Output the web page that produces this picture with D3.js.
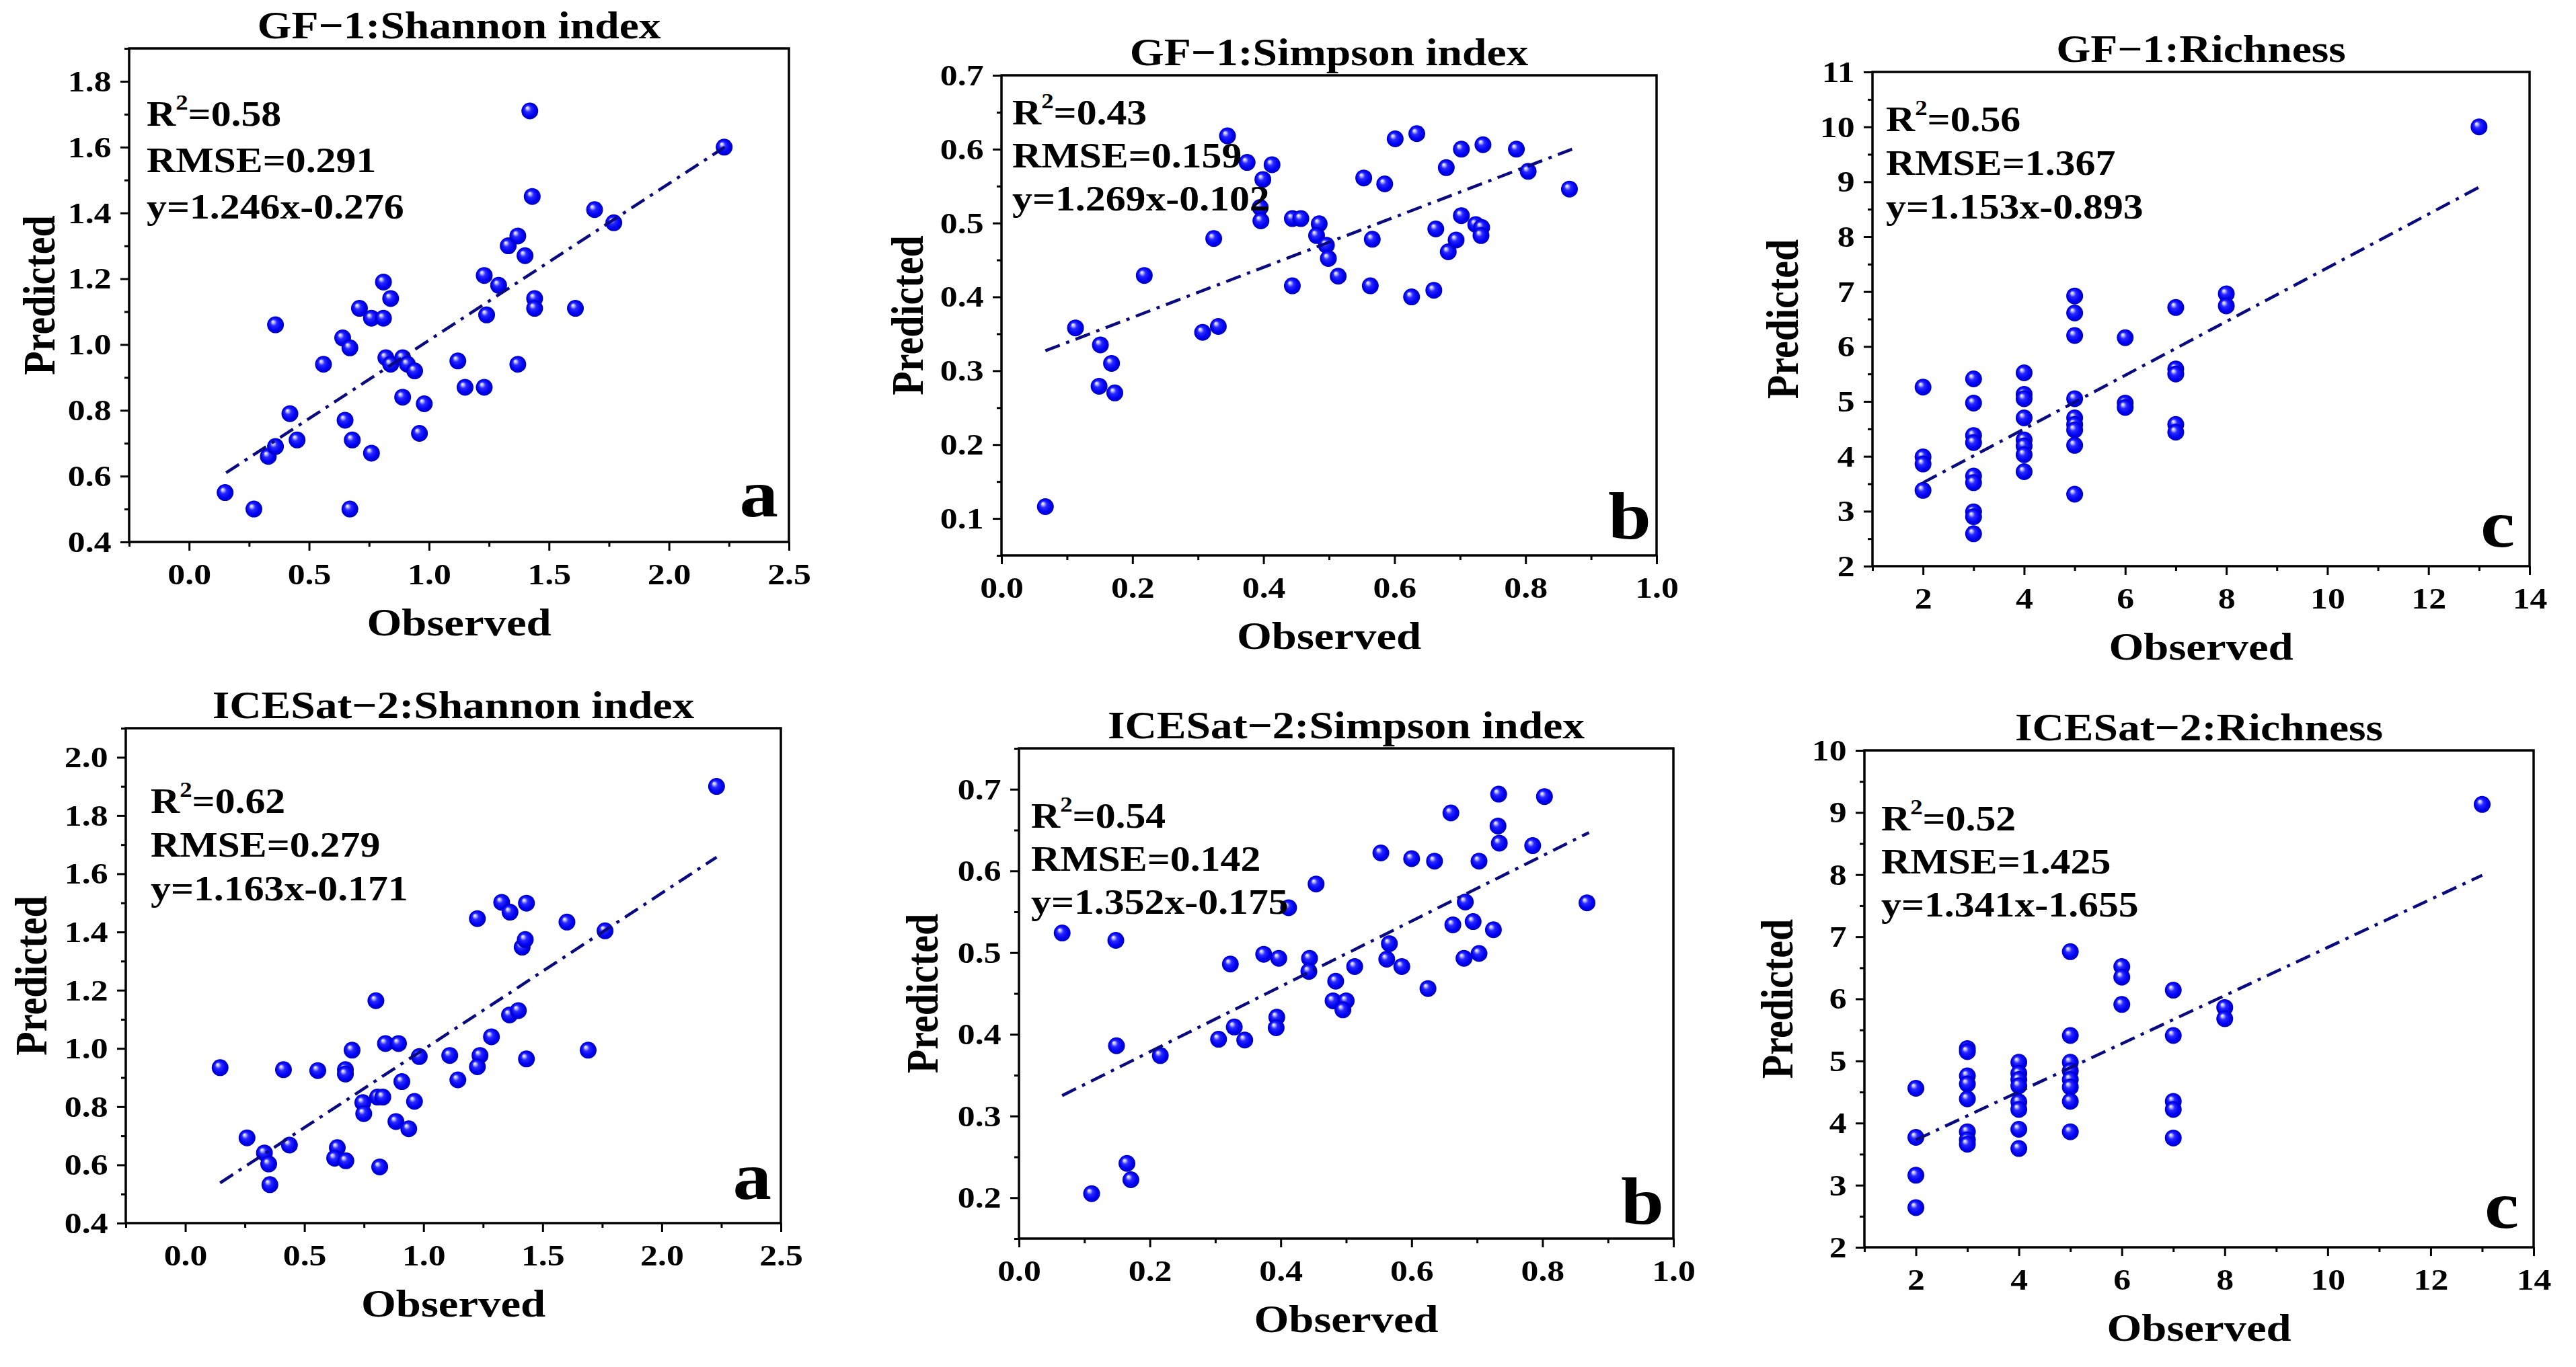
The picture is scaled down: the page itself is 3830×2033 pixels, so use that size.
<!DOCTYPE html>
<html>
<head>
<meta charset="utf-8">
<script src="https://cdn.jsdelivr.net/npm/d3@7"></script>
<style>
  body { margin: 0; background: #fff; }
  text { font-family: "Liberation Serif", "Times New Roman", serif; font-weight: bold; fill: #000; }
</style>
</head>
<body>
<div id="chart"></div>
<script>
// ---- data ----
var gfShannonObs  = [0.15,0.27,0.67,0.33,0.36,0.36,0.42,0.45,0.56,0.64,0.67,0.65,0.68,0.76,0.71,0.76,0.81,0.81,0.84,0.82,0.84,0.89,0.91,0.94,0.89,0.98,0.96,1.12,1.15,1.23,1.23,1.29,1.24,1.33,1.37,1.40,1.42,1.43,1.44,1.44,1.37,1.61,1.69,1.77,2.23];
var gfShannonPred = [0.55,0.50,0.50,0.66,0.69,1.06,0.79,0.71,0.94,1.02,0.99,0.77,0.71,0.67,1.11,1.08,1.08,1.19,1.14,0.96,0.94,0.96,0.94,0.92,0.84,0.82,0.73,0.95,0.87,0.87,1.21,1.18,1.09,1.30,1.33,1.27,1.71,1.45,1.14,1.11,0.94,1.11,1.41,1.37,1.60];

var gfSimpsonObs  = [0.067,0.113,0.151,0.168,0.149,0.173,0.218,0.307,0.331,0.324,0.345,0.375,0.413,0.399,0.395,0.396,0.444,0.457,0.444,0.485,0.481,0.496,0.499,0.514,0.553,0.585,0.566,0.563,0.601,0.634,0.626,0.660,0.663,0.679,0.702,0.735,0.702,0.682,0.694,0.724,0.733,0.732,0.786,0.804,0.867];
var gfSimpsonPred = [0.116,0.358,0.335,0.310,0.279,0.270,0.429,0.352,0.360,0.479,0.618,0.582,0.579,0.559,0.521,0.503,0.506,0.506,0.415,0.499,0.483,0.470,0.452,0.428,0.561,0.553,0.478,0.415,0.614,0.621,0.400,0.409,0.492,0.575,0.600,0.606,0.510,0.461,0.477,0.498,0.494,0.483,0.600,0.570,0.546];

var gfRichObs  = [2,2,2,2,3,3,3,3,3,3,3,3,3,4,4,4,4,4,4,4,4,5,5,5,5,5,5,5,5,5,6,6,6,7,7,7,7,7,8,8,13];
var gfRichPred = [5.26,3.99,3.86,3.38,5.41,4.97,4.38,4.25,3.64,3.52,2.99,2.90,2.59,5.52,5.13,5.05,4.70,4.30,4.19,4.03,3.72,6.92,6.61,6.20,5.05,4.70,4.58,4.48,4.20,3.31,6.16,4.97,4.89,6.71,5.59,5.50,4.58,4.44,6.96,6.74,10.0];

var iceShannonObs  = [0.146,0.259,0.332,0.350,0.355,0.412,0.437,0.556,0.638,0.627,0.672,0.672,0.674,0.700,0.745,0.749,0.800,0.807,0.829,0.840,0.895,0.816,0.884,0.909,0.938,0.962,0.982,1.110,1.144,1.226,1.237,1.226,1.285,1.328,1.363,1.432,1.361,1.398,1.414,1.427,1.432,1.602,1.691,1.762,2.230];
var iceShannonPred = [0.934,0.693,0.641,0.603,0.532,0.927,0.668,0.924,0.659,0.623,0.927,0.912,0.614,0.994,0.814,0.776,1.164,0.833,0.833,1.017,1.017,0.593,0.749,0.886,0.724,0.818,0.972,0.976,0.892,1.446,0.976,0.937,1.040,1.502,1.468,1.499,1.115,1.130,1.348,1.374,0.964,1.434,0.994,1.404,1.900];

var iceSimpsonObs  = [0.066,0.111,0.148,0.149,0.165,0.171,0.216,0.305,0.329,0.345,0.323,0.374,0.397,0.394,0.393,0.412,0.454,0.444,0.443,0.484,0.480,0.500,0.495,0.513,0.553,0.566,0.562,0.585,0.600,0.635,0.625,0.660,0.663,0.682,0.680,0.694,0.703,0.703,0.725,0.733,0.732,0.734,0.785,0.803,0.868];
var iceSimpsonPred = [0.524,0.205,0.515,0.386,0.242,0.222,0.374,0.394,0.409,0.393,0.486,0.498,0.493,0.421,0.408,0.555,0.584,0.493,0.477,0.465,0.441,0.441,0.430,0.483,0.622,0.511,0.492,0.483,0.615,0.612,0.456,0.671,0.534,0.562,0.493,0.538,0.612,0.499,0.528,0.694,0.655,0.634,0.631,0.691,0.561];

var iceRichObs  = [2,2,2,2,3,3,3,3,3,3,3,3,4,4,4,4,4,4,4,4,5,5,5,5,5,5,5,5,6,6,6,7,7,7,7,7,8,8,13];
var iceRichPred = [4.56,3.77,3.16,2.64,5.20,5.15,4.76,4.63,4.39,3.86,3.73,3.66,4.98,4.80,4.70,4.60,4.34,4.22,3.90,3.59,6.76,5.41,4.98,4.84,4.70,4.58,4.35,3.86,6.52,6.35,5.91,6.14,5.41,4.35,4.22,3.76,5.86,5.68,9.13];

// fitted line ends as drawn: [x0, y0, x1, y1]
var fitLines = [[0.154,0.61,2.232,1.60],[0.067,0.327,0.871,0.600],[2,3.52,13,8.90],
                [0.146,0.538,2.23,1.657],[0.066,0.325,0.871,0.647],[2,3.73,13,7.99]];

var titles = ["GF\u22121:Shannon index","GF\u22121:Simpson index","GF\u22121:Richness",
              "ICESat\u22122:Shannon index","ICESat\u22122:Simpson index","ICESat\u22122:Richness"];
var r2Text   = ["0.58","0.43","0.56","0.62","0.54","0.52"];
var rmseText = ["0.291","0.159","1.367","0.279","0.142","1.425"];
var eqText   = ["y=1.246x-0.276","y=1.269x-0.102","y=1.153x-0.893","y=1.163x-0.171","y=1.352x-0.175","y=1.341x-1.655"];
var letters  = ["a","b","c","a","b","c"];

// axes ranges and ticks
var xDomains = [[-0.25,2.5],[0,1],[1,14],[-0.25,2.5],[0,1],[1,14]];
var yDomains = [[0.4,1.9],[0.05,0.7],[2,11],[0.4,2.1],[0.15,0.75],[2,10]];
var shannonXTicks = [0,0.5,1,1.5,2,2.5], shannonXMinor = [-0.25,0.25,0.75,1.25,1.75,2.25];
var simpsonXTicks = [0,0.2,0.4,0.6,0.8,1.0], simpsonXMinor = [0.1,0.3,0.5,0.7,0.9];
var richXTicks = [2,4,6,8,10,12,14], richXMinor = [1,3,5,7,9,11,13];
var gfShannonYTicks = [0.4,0.6,0.8,1.0,1.2,1.4,1.6,1.8], gfShannonYMinor = [0.5,0.7,0.9,1.1,1.3,1.5,1.7,1.9];
var gfSimpsonYTicks = [0.1,0.2,0.3,0.4,0.5,0.6,0.7], gfSimpsonYMinor = [0.05,0.15,0.25,0.35,0.45,0.55,0.65];
var gfRichYTicks = [2,3,4,5,6,7,8,9,10,11], gfRichYMinor = [2.5,3.5,4.5,5.5,6.5,7.5,8.5,9.5,10.5];
var iceShannonYTicks = [0.4,0.6,0.8,1.0,1.2,1.4,1.6,1.8,2.0], iceShannonYMinor = [0.5,0.7,0.9,1.1,1.3,1.5,1.7,1.9,2.1];
var iceSimpsonYTicks = [0.2,0.3,0.4,0.5,0.6,0.7], iceSimpsonYMinor = [0.15,0.25,0.35,0.45,0.55,0.65,0.75];
var iceRichYTicks = [2,3,4,5,6,7,8,9,10], iceRichYMinor = [2.5,3.5,4.5,5.5,6.5,7.5,8.5,9.5];

// ---- layout ----
var W = 3830, H = 2033;
var stretch = 1.15;   // the source text is a bit wide
var serif = '"Liberation Serif", "Times New Roman", serif';

var frames = [
  {x:192,  y:72,   w:981, h:734, ylab:111, ann:[26,115,69], let:[16,38]},
  {x:1489, y:112,  w:974, h:714, ylab:117, ann:[16,73,64],  let:[8,25]},
  {x:2784, y:107,  w:977, h:735, ylab:111, ann:[20,88,65],  let:[22,29]},
  {x:187,  y:1083, w:974, h:736, ylab:118, ann:[37,126,65], let:[14,36]},
  {x:1515, y:1113, w:973, h:729, ylab:121, ann:[18,118,64], let:[14,22]},
  {x:2772, y:1116, w:995, h:739, ylab:107, ann:[25,119,64], let:[22,29]}
];

var obsSets  = [gfShannonObs, gfSimpsonObs, gfRichObs, iceShannonObs, iceSimpsonObs, iceRichObs];
var predSets = [gfShannonPred, gfSimpsonPred, gfRichPred, iceShannonPred, iceSimpsonPred, iceRichPred];
var xMajor = [shannonXTicks, simpsonXTicks, richXTicks, shannonXTicks, simpsonXTicks, richXTicks];
var xMinor = [shannonXMinor, simpsonXMinor, richXMinor, shannonXMinor, simpsonXMinor, richXMinor];
var yMajor = [gfShannonYTicks, gfSimpsonYTicks, gfRichYTicks, iceShannonYTicks, iceSimpsonYTicks, iceRichYTicks];
var yMinor = [gfShannonYMinor, gfSimpsonYMinor, gfRichYMinor, iceShannonYMinor, iceSimpsonYMinor, iceRichYMinor];
var fmts = [d3.format(".1f"), d3.format(".1f"), d3.format("d"), d3.format(".1f"), d3.format(".1f"), d3.format("d")];

var svg = d3.select("#chart").append("svg")
    .attr("width", W).attr("height", H)
    .style("background", "#fff");

svg.append("rect").attr("width", W).attr("height", H).attr("fill", "#fff");

// shiny ball marker
var grad = svg.append("defs").append("radialGradient")
    .attr("id", "ball").attr("cx", "50%").attr("cy", "50%").attr("r", "50%")
    .attr("fx", "33%").attr("fy", "30%");
grad.append("stop").attr("offset", "0%").attr("stop-color", "#ffffff");
grad.append("stop").attr("offset", "14%").attr("stop-color", "#c4c4ff");
grad.append("stop").attr("offset", "38%").attr("stop-color", "#2a2aff");
grad.append("stop").attr("offset", "75%").attr("stop-color", "#0000f4");
grad.append("stop").attr("offset", "100%").attr("stop-color", "#0000b8");

function addText(g, x, y, str, size, anchor) {
  return g.append("text")
    .attr("transform", "translate(" + x + "," + y + ") scale(" + stretch + ",1)")
    .attr("text-anchor", anchor || "start")
    .style("font-family", serif)
    .style("font-weight", "bold")
    .style("font-size", size + "px")
    .text(str);
}

frames.forEach(function(f, i) {
  var g = svg.append("g").attr("transform", "translate(" + f.x + "," + f.y + ")");

  var xScale = d3.scaleLinear().domain(xDomains[i]).range([0, f.w]);
  var yScale = d3.scaleLinear().domain(yDomains[i]).range([f.h, 0]);

  // minor ticks
  g.append("g").attr("transform", "translate(0," + f.h + ")")
    .call(d3.axisBottom(xScale).tickValues(xMinor[i]).tickSize(7).tickFormat(""))
    .call(function(a) { a.select(".domain").remove(); });
  g.append("g")
    .call(d3.axisLeft(yScale).tickValues(yMinor[i]).tickSize(7).tickFormat(""))
    .call(function(a) { a.select(".domain").remove(); });

  // major ticks + labels
  var xa = g.append("g").attr("transform", "translate(0," + f.h + ")")
    .call(d3.axisBottom(xScale).tickValues(xMajor[i]).tickSize(13).tickPadding(18).tickFormat(fmts[i]));
  var ya = g.append("g")
    .call(d3.axisLeft(yScale).tickValues(yMajor[i]).tickSize(13).tickPadding(10).tickFormat(fmts[i]));

  [xa, ya].forEach(function(a) {
    a.attr("font-family", null).attr("font-size", null);
    a.select(".domain").remove();
    a.selectAll("text").attr("transform", "scale(" + stretch + ",1)")
      .style("font-family", serif).style("font-weight", "bold")
      .style("font-size", "45px").attr("fill", "#000");
  });
  g.selectAll(".tick line").attr("stroke", "#000").attr("stroke-width", 3);

  // frame
  g.append("rect").attr("width", f.w).attr("height", f.h)
    .attr("fill", "none").attr("stroke", "#000").attr("stroke-width", 3.5);

  // points
  var pts = obsSets[i].map(function(o, k) { return {x: o, y: predSets[i][k]}; });
  g.selectAll(".pt").data(pts).enter().append("circle")
    .attr("class", "pt")
    .attr("cx", function(d) { return xScale(d.x); })
    .attr("cy", function(d) { return yScale(d.y); })
    .attr("r", 12.5)
    .attr("fill", "url(#ball)");

  // fitted line
  var fl = fitLines[i];
  g.append("line")
    .attr("x1", xScale(fl[0])).attr("y1", yScale(fl[1]))
    .attr("x2", xScale(fl[2])).attr("y2", yScale(fl[3]))
    .attr("stroke", "#0a0a80").attr("stroke-width", 4.5)
    .attr("stroke-dasharray", "23,10,5,10");

  // stats text
  var ax = f.ann[0], ay = f.ann[1], gap = f.ann[2];
  var r2 = addText(g, ax, ay, "", 52);
  r2.append("tspan").text("R");
  r2.append("tspan").attr("dy", -24).style("font-size", "32px").text("2");
  r2.append("tspan").attr("dy", 24).text("=" + r2Text[i]);
  addText(g, ax, ay + gap, "RMSE=" + rmseText[i], 52);
  addText(g, ax, ay + 2 * gap, eqText[i], 52);

  // panel letter
  addText(g, f.w - f.let[0], f.h - f.let[1], letters[i], 100, "end");

  // titles
  addText(g, f.w / 2, -15, titles[i], 57, "middle");
  addText(g, f.w / 2, f.h + 139, "Observed", 58, "middle");
  g.append("text")
    .attr("transform", "translate(" + (-f.ylab) + "," + (f.h / 2) + ") rotate(-90) scale(1," + stretch + ")")
    .attr("text-anchor", "middle")
    .style("font-family", serif)
    .style("font-weight", "bold")
    .style("font-size", "58px")
    .text("Predicted");
});
</script>
</body>
</html>
